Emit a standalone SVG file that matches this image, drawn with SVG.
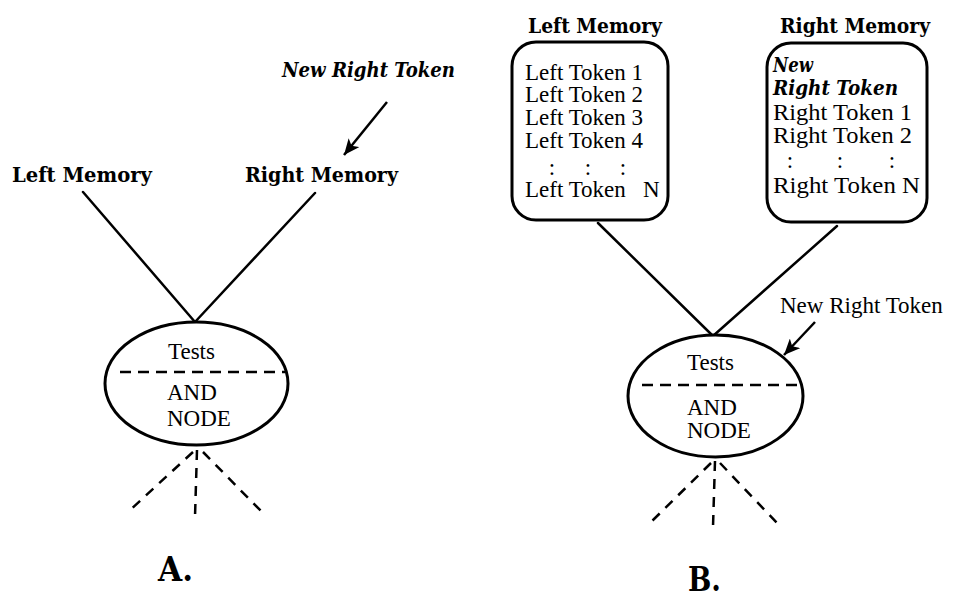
<svg xmlns="http://www.w3.org/2000/svg" width="956" height="599" viewBox="0 0 956 599">
  <style>
    .bg { fill: #ffffff; }
    .title { font-family: "DejaVu Serif", "Liberation Serif", serif; font-weight: bold; font-size: 20px; fill: #000; }
    .newtok { font-family: "DejaVu Serif", "Liberation Serif", serif; font-weight: bold; font-style: italic; font-size: 20px; fill: #000; }
    .txt { font-family: "Liberation Serif", "Times New Roman", serif; font-size: 23px; fill: #000; }
    .panel { font-family: "DejaVu Serif", "Liberation Serif", serif; font-weight: bold; font-size: 33px; fill: #000; }
    .edge { stroke: #000; stroke-width: 2.5; fill: none; stroke-linecap: round; }
    .node { stroke: #000; stroke-width: 3; fill: #fff; }
    .divider { stroke: #000; stroke-width: 2.5; stroke-dasharray: 11 7; fill: none; }
    .fan { stroke: #000; stroke-width: 2.5; stroke-dasharray: 10 8; fill: none; }
    .arrow { stroke: #000; stroke-width: 2.5; fill: none; marker-end: url(#head); }
  </style>
  <defs>
    <marker id="head" markerUnits="userSpaceOnUse" markerWidth="18" markerHeight="14" refX="16" refY="7" orient="auto">
      <path d="M0,0 L16,7 L0,14 L4,7 Z" fill="#000"/>
    </marker>
  </defs>

  <rect class="bg" x="0" y="0" width="956" height="599"/>

  <!-- connectors -->
  <g id="connectors">
    <!-- panel A -->
    <line class="edge" x1="83" y1="192" x2="195" y2="322"/>
    <line class="edge" x1="315" y1="193" x2="195" y2="322"/>
    <line class="arrow" x1="387" y1="102" x2="344" y2="155"/>
    <line class="fan" x1="193" y1="452" x2="128" y2="512"/>
    <line class="fan" x1="197" y1="450" x2="195" y2="517"/>
    <line class="fan" x1="203" y1="452" x2="262" y2="512"/>
    <!-- panel B -->
    <line class="edge" x1="598" y1="223" x2="713" y2="336"/>
    <line class="edge" x1="837" y1="226" x2="713" y2="336"/>
    <line class="arrow" x1="815" y1="322" x2="784" y2="355"/>
    <line class="fan" x1="711" y1="463" x2="650" y2="523"/>
    <line class="fan" x1="715" y1="461" x2="713" y2="527"/>
    <line class="fan" x1="720" y1="463" x2="777" y2="523"/>
  </g>

  <!-- panel A -->
  <g id="a-new-right-token">
    <text class="newtok" x="282" y="77" textLength="173" lengthAdjust="spacingAndGlyphs">New Right Token</text>
  </g>
  <g id="a-left-memory">
    <text class="title" x="12" y="182" textLength="140" lengthAdjust="spacingAndGlyphs">Left Memory</text>
  </g>
  <g id="a-right-memory">
    <text class="title" x="245" y="182" textLength="153" lengthAdjust="spacingAndGlyphs">Right Memory</text>
  </g>
  <g id="a-and-node">
    <ellipse class="node" cx="196.5" cy="383.5" rx="91.5" ry="61.5"/>
    <line class="divider" x1="120" y1="372" x2="285" y2="372"/>
    <text class="txt" x="168" y="359">Tests</text>
    <text class="txt" x="167" y="400">AND</text>
    <text class="txt" x="167" y="426">NODE</text>
  </g>
  <g id="a-label">
    <text class="panel" x="158" y="581" textLength="35" lengthAdjust="spacingAndGlyphs">A.</text>
  </g>

  <!-- panel B -->
  <g id="b-left-memory">
    <text class="title" x="528" y="33" textLength="134" lengthAdjust="spacingAndGlyphs">Left Memory</text>
    <rect class="node" x="512" y="42" width="156" height="178" rx="24" ry="24"/>
    <text class="txt" x="525" y="80">Left Token 1</text>
    <text class="txt" x="525" y="102">Left Token 2</text>
    <text class="txt" x="525" y="125">Left Token 3</text>
    <text class="txt" x="525" y="148">Left Token 4</text>
    <text class="txt" y="175" text-anchor="middle"><tspan x="552">:</tspan><tspan x="588">:</tspan><tspan x="623">:</tspan></text>
    <text class="txt" x="525" y="197">Left Token <tspan x="643">N</tspan></text>
  </g>
  <g id="b-right-memory">
    <text class="title" x="780" y="33" textLength="150" lengthAdjust="spacingAndGlyphs">Right Memory</text>
    <rect class="node" x="767" y="43" width="160" height="179" rx="24" ry="24"/>
    <text class="newtok" x="773" y="72" textLength="40" lengthAdjust="spacingAndGlyphs">New</text>
    <text class="newtok" x="773" y="95" textLength="125" lengthAdjust="spacingAndGlyphs">Right Token</text>
    <text class="txt" x="773" y="120" textLength="139" lengthAdjust="spacingAndGlyphs">Right Token 1</text>
    <text class="txt" x="773" y="143" textLength="139" lengthAdjust="spacingAndGlyphs">Right Token 2</text>
    <text class="txt" y="168" text-anchor="middle"><tspan x="790">:</tspan><tspan x="840">:</tspan><tspan x="892">:</tspan></text>
    <text class="txt" x="773" y="193" textLength="147" lengthAdjust="spacingAndGlyphs">Right Token N</text>
  </g>
  <g id="b-new-right-token">
    <text class="txt" x="780" y="313">New Right Token</text>
  </g>
  <g id="b-and-node">
    <ellipse class="node" cx="715.5" cy="396" rx="87.5" ry="61"/>
    <line class="divider" x1="642" y1="385" x2="802" y2="385"/>
    <text class="txt" x="687" y="370">Tests</text>
    <text class="txt" x="687" y="415">AND</text>
    <text class="txt" x="687" y="438">NODE</text>
  </g>
  <g id="b-label">
    <text class="panel" x="688" y="591" textLength="33" lengthAdjust="spacingAndGlyphs">B.</text>
  </g>
</svg>
